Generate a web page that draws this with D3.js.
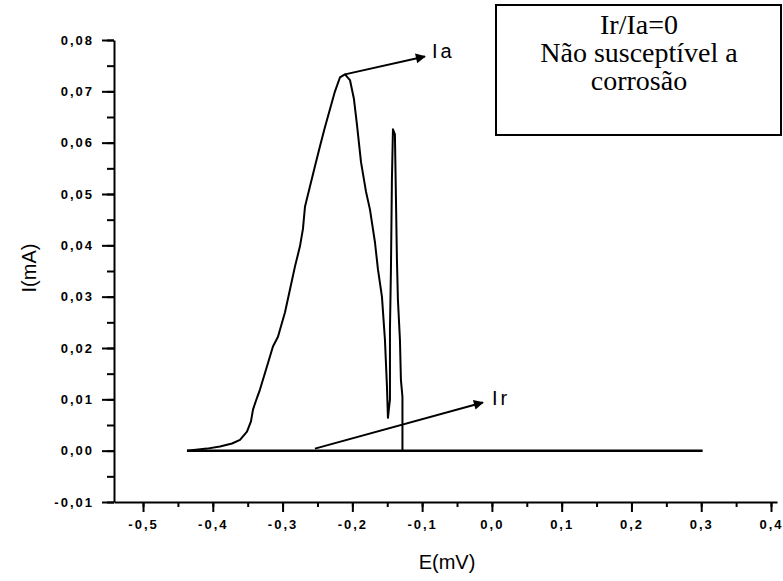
<!DOCTYPE html>
<html>
<head>
<meta charset="utf-8">
<script src="https://cdn.jsdelivr.net/npm/d3@7"></script>
<style>
  body { margin: 0; background: #fff; }
  .tick text { font-family: "Liberation Sans", Arial, sans-serif; font-weight: bold; font-size: 13px; letter-spacing: 2px; }
</style>
</head>
<body>
<div id="chart"></div>
<script>
// polarization curve (E in V, I in mA)
var curveE = [-0.437, -0.4083, -0.3897, -0.3724, -0.361, -0.351, -0.3453, -0.3424, -0.3367, -0.3324,
  -0.3224, -0.3138, -0.3066, -0.2966, -0.2894, -0.2822, -0.2751, -0.2708, -0.2679, -0.2607,
  -0.2536, -0.2464, -0.2393, -0.2321, -0.2249, -0.2178, -0.2106, -0.2034, -0.1977, -0.1934,
  -0.1876, -0.1805, -0.1748, -0.1676, -0.1633, -0.1576, -0.1533, -0.1504, -0.149, -0.1461,
  -0.1461, -0.1447, -0.1433, -0.1418, -0.139, -0.1375, -0.1361, -0.1347, -0.1318, -0.1304,
  -0.1282, -0.1282];
var curveI = [0, 0.0004, 0.0008, 0.0014, 0.0021, 0.0037, 0.0057, 0.008, 0.0103, 0.0119,
  0.0164, 0.0203, 0.0222, 0.0269, 0.0314, 0.0359, 0.0398, 0.0432, 0.0475, 0.0515,
  0.0554, 0.0593, 0.063, 0.0665, 0.07, 0.0727, 0.0733, 0.0722, 0.0685, 0.0635,
  0.0562, 0.0505, 0.047, 0.0406, 0.0353, 0.03, 0.0216, 0.0125, 0.0064, 0.01,
  0.0236, 0.0353, 0.0528, 0.0626, 0.0616, 0.049, 0.0372, 0.0294, 0.0216, 0.0138,
  0.0105, 0];

// return scan, flat at zero
var baseE = [-0.437, 0.302];
var baseI = [0, 0];

var xTicks = [-0.5, -0.4, -0.3, -0.2, -0.1, 0.0, 0.1, 0.2, 0.3, 0.4];
var yTicks = [-0.01, 0.0, 0.01, 0.02, 0.03, 0.04, 0.05, 0.06, 0.07, 0.08];

// arrows: [E1, I1, E2, I2]
var arrowIa = [-0.2106, 0.0733, -0.096, 0.0768];
var arrowIr = [-0.2536, 0.0004, -0.0129, 0.0094];
var boxLines = ["Ir/Ia=0", "Não susceptível a", "corrosão"];

var width = 783, height = 581;

var svg = d3.select("#chart").append("svg")
  .attr("width", width)
  .attr("height", height);

var x = d3.scaleLinear()
  .domain([-0.5416, 0.4086])
  .range([114, 777]);

var y = d3.scaleLinear()
  .domain([-0.01, 0.08])
  .range([502, 40]);

function comma(n) {
  return function(d) { return d3.format("." + n + "f")(d).replace("−", "-").replace(".", ","); };
}

// minor ticks first
svg.append("g")
  .attr("transform", "translate(0,502)")
  .call(d3.axisBottom(x).tickValues(d3.range(-0.5, 0.401, 0.05)).tickSize(5).tickFormat(""))
  .call(function(g) { g.select(".domain").remove(); });
svg.append("g")
  .attr("transform", "translate(114,0)")
  .call(d3.axisLeft(y).tickValues(d3.range(-0.01, 0.0801, 0.005)).tickSize(7).tickFormat(""))
  .call(function(g) { g.select(".domain").remove(); });

// X axis
svg.append("g")
  .attr("transform", "translate(0,502)")
  .call(d3.axisBottom(x).tickValues(xTicks).tickSize(10).tickPadding(8).tickSizeOuter(0).tickFormat(comma(1)));

// Y axis
svg.append("g")
  .attr("transform", "translate(114,0)")
  .call(d3.axisLeft(y).tickValues(yTicks).tickSize(12).tickPadding(8).tickSizeOuter(0).tickFormat(comma(2)));

svg.selectAll(".domain, .tick line")
  .attr("stroke", "#000")
  .attr("stroke-width", 2);

// axis titles
svg.append("text")
  .attr("x", 447)
  .attr("y", 569)
  .attr("text-anchor", "middle")
  .style("font-family", "Liberation Sans, Arial, sans-serif")
  .style("font-size", "20px")
  .text("E(mV)");

svg.append("text")
  .attr("transform", "translate(36,268) rotate(-90)")
  .attr("text-anchor", "middle")
  .style("font-family", "Liberation Sans, Arial, sans-serif")
  .style("font-size", "20px")
  .text("I(mA)");

var line = d3.line()
  .x(function(d) { return x(d[0]); })
  .y(function(d) { return y(d[1]); });

svg.append("path")
  .datum(baseE.map(function(e, i) { return [e, baseI[i]]; }))
  .attr("d", line)
  .attr("fill", "none")
  .attr("stroke", "#000")
  .attr("stroke-width", 2.5);

svg.append("path")
  .datum(curveE.map(function(e, i) { return [e, curveI[i]]; }))
  .attr("d", line)
  .attr("fill", "none")
  .attr("stroke", "#000")
  .attr("stroke-width", 2)
  .attr("stroke-linejoin", "round");

// arrowhead
svg.append("defs").append("marker")
  .attr("id", "head")
  .attr("viewBox", "0 0 10 10")
  .attr("refX", 9)
  .attr("refY", 5)
  .attr("markerWidth", 7)
  .attr("markerHeight", 5)
  .attr("markerUnits", "strokeWidth")
  .attr("orient", "auto")
  .append("path")
    .attr("d", "M0,0L10,5L0,10z")
    .attr("fill", "#000");

[arrowIa, arrowIr].forEach(function(a) {
  svg.append("line")
    .attr("x1", x(a[0]))
    .attr("y1", y(a[1]))
    .attr("x2", x(a[2]))
    .attr("y2", y(a[3]))
    .attr("stroke", "#000")
    .attr("stroke-width", 2)
    .attr("marker-end", "url(#head)");
});

svg.append("text")
  .attr("x", x(arrowIa[2]) + 7)
  .attr("y", y(arrowIa[3]) + 2)
  .style("font-family", "Liberation Sans, Arial, sans-serif")
  .style("font-size", "20px")
  .style("letter-spacing", "3px")
  .text("Ia");

svg.append("text")
  .attr("x", x(arrowIr[2]) + 9)
  .attr("y", y(arrowIr[3]) + 3)
  .style("font-family", "Liberation Sans, Arial, sans-serif")
  .style("font-size", "20px")
  .style("letter-spacing", "3px")
  .text("Ir");

// text box
svg.append("rect")
  .attr("x", 496)
  .attr("y", 5)
  .attr("width", 285)
  .attr("height", 130)
  .attr("fill", "#fff")
  .attr("stroke", "#000")
  .attr("stroke-width", 2);

svg.selectAll("boxtext")
  .data(boxLines)
  .enter()
  .append("text")
    .attr("x", 639)
    .attr("y", function(d, i) { return 34 + i * 28; })
    .attr("text-anchor", "middle")
    .style("font-family", "Liberation Serif, Times New Roman, serif")
    .style("font-size", "28px")
    .text(function(d) { return d; });
</script>
</body>
</html>
